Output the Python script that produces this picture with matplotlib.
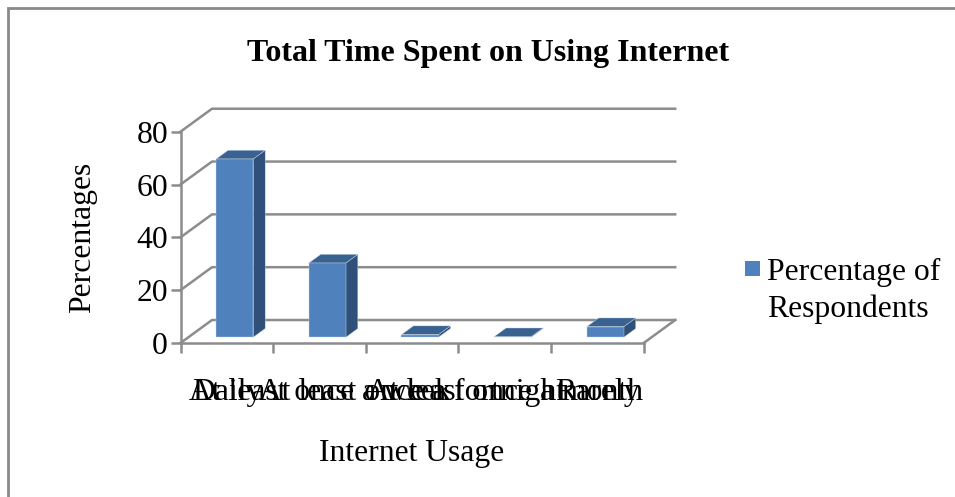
"""Bar chart of internet usage frequency with an oblique 3D look."""
import matplotlib
matplotlib.use('Agg')
import matplotlib.pyplot as plt
from matplotlib.patches import Polygon, Rectangle

plt.rcParams['font.family'] = ['Liberation Serif', 'DejaVu Serif']

categories = ['Daily', 'At least once a week', 'At least once a fortnight',
              'At least once a month', 'Rarely']
values = [67.5, 28.1, 1.0, 0.2, 4.0]
y_ticks = [0, 20, 40, 60, 80]

W, H = 955, 497
FONT = 22.8
FRONT = '#4F81BD'
TOP = '#3A6291'
SIDE = '#2F5079'
GRID = '#8C8C8C'

# oblique projection: one unit of depth moves this far in data units
DEPTH_X = 0.34
DEPTH_Y = 8.7


def project(x, y, depth=0.):
    return x + depth*DEPTH_X, y + depth*DEPTH_Y


def draw_bar(ax, i, value, width=0.4, d0=0.25, d1=0.63):
    """Draw one cuboid standing on the floor of the plot box."""
    x0, x1 = i + 0.5 - width/2, i + 0.5 + width/2
    front = [project(x0, 0, d0), project(x1, 0, d0),
             project(x1, value, d0), project(x0, value, d0)]
    top = [project(x0, value, d0), project(x1, value, d0),
           project(x1, value, d1), project(x0, value, d1)]
    side = [project(x1, 0, d0), project(x1, 0, d1),
            project(x1, value, d1), project(x1, value, d0)]
    edge = dict(edgecolor='#C5D6EA', linewidth=0.3, zorder=5, clip_on=False)
    ax.add_patch(Polygon(side, facecolor=SIDE, **edge))
    ax.add_patch(Polygon(top, facecolor=TOP, **edge))
    ax.add_patch(Polygon(front, facecolor=FRONT, **edge))


fig = plt.figure(figsize=(W/100, H/100), dpi=100)

# outer chart border, kept behind the axes
fig.add_artist(Rectangle((8/W, -0.02), 1.1, 1 - 8.5/H + 0.02, transform=fig.transFigure,
                         facecolor='white', edgecolor='#8A8A8A', linewidth=2, zorder=-1))

ax = fig.add_axes([180.5/W, 1 - 343/H, (643.7 - 180.5)/W, (343 - 131.7)/H])
ax.set_xlim(0, 5)
ax.set_ylim(0, 80)
ax.patch.set_visible(False)
for name in ['top', 'right']:
    ax.spines[name].set_visible(False)
for name in ['left', 'bottom']:
    ax.spines[name].set_color(GRID)
    ax.spines[name].set_linewidth(1.8)

# gridlines run up the side wall and along the back wall
for y in y_ticks:
    xs, ys = zip(project(0, y), project(0, y, 1), project(5, y, 1))
    ax.plot(xs, ys, color=GRID, lw=1.8, clip_on=False, zorder=1)
xs, ys = zip(project(5, 0), project(5, 0, 1))
ax.plot(xs, ys, color=GRID, lw=1.8, clip_on=False, zorder=1)

for i, value in enumerate(values):
    draw_bar(ax, i, value)

ax.set_yticks(y_ticks)
ax.set_xticks(range(6))
ax.set_xticklabels([])
ax.set_xticks([i + 0.5 for i in range(5)], labels=categories, minor=True)
ax.tick_params(axis='x', which='major', direction='out', length=7, width=1.8, color=GRID)
ax.tick_params(axis='x', which='minor', length=0, labelsize=FONT, pad=25)
ax.tick_params(axis='y', direction='out', length=7, width=1.8, color=GRID,
               labelsize=FONT, pad=2)

ax.set_ylabel('Percentages', fontsize=FONT, labelpad=28)
ax.set_xlabel('Internet Usage', fontsize=FONT, labelpad=23)

fig.text(488/W, 1 - 53/H, 'Total Time Spent on Using Internet', fontsize=23,
         fontweight='bold', ha='center', va='center')

# legend entry sits to the right of the plot box
fig.add_artist(Rectangle((745/W, 1 - 276/H), 15/W, 15/H, transform=fig.transFigure,
                         facecolor=FRONT, edgecolor='none'))
fig.text(767/W, 1 - 272/H, 'Percentage of', fontsize=FONT, va='center')
fig.text(767/W, 1 - 309/H, 'Respondents', fontsize=FONT, va='center')

fig.savefig('out.png', dpi=100)
